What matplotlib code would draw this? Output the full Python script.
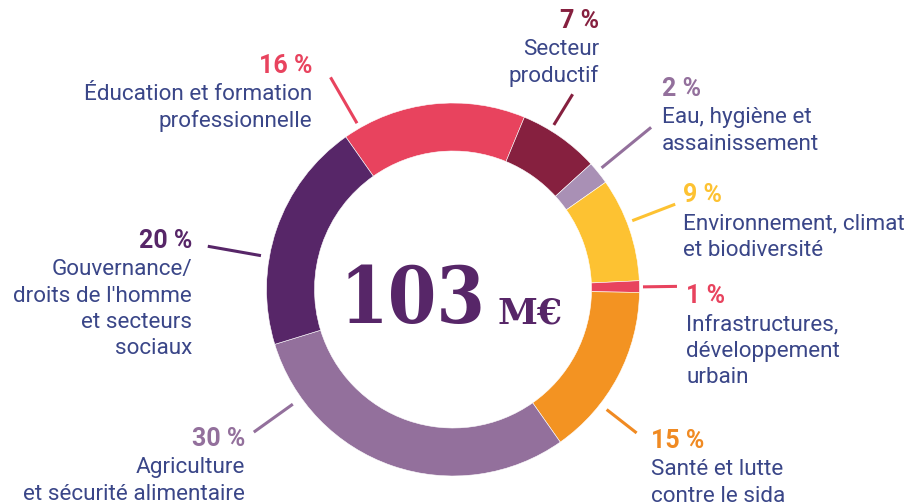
import numpy as np
import matplotlib
matplotlib.use("Agg")
import matplotlib.pyplot as plt

# --- data -------------------------------------------------------------
sectors = [
    "Éducation et formation\nprofessionnelle",
    "Secteur\nproductif",
    "Eau, hygiène et\nassainissement",
    "Environnement, climat\net biodiversité",
    "Infrastructures,\ndéveloppement\nurbain",
    "Santé et lutte\ncontre le sida",
    "Agriculture\net sécurité alimentaire",
    "Gouvernance/\ndroits de l'homme\net secteurs\nsociaux",
]
shares = [16, 7, 2, 9, 1, 15, 30, 20]
total_label = "103"
unit_label = "M€"

# --- style ------------------------------------------------------------
seg_colors = ["#e8435e", "#86203f", "#a990b5", "#fdc232",
              "#e8435e", "#f39322", "#93709c", "#572668"]
pct_colors = ["#e8435e", "#86203f", "#93709c", "#fdc232",
              "#e8435e", "#f08a22", "#93709c", "#572668"]
text_color = "#3a4688"

W, H = 913, 503
cx, cy = 453, H - 289.5
R, ring = 186.5, 48

# leader lines: (angle in degrees, inner radius, outer radius)
leaders = [(120, 192, 245), (58.5, 193, 229), (39.3, 192, 256), (21, 192, 238),
           (0.8, 190, 224), (-38, 195, 233), (-144.4, 197, 245), (170, 195, 249)]
# label anchors: (x, baseline of percent, alignment) in pixel coords from top
anchors = [(312, 73, "right"), (599, 28, "right"), (662, 96, "left"),
           (683, 202, "left"), (686, 303, "left"), (651, 448, "left"),
           (245, 446, "right"), (192, 248, "right")]
line_gap = 26.5
first_gap = 27

fig = plt.figure(figsize=(W / 100, H / 100), dpi=100)
ax = fig.add_axes([0, 0, 1, 1])

ax.pie(shares, colors=seg_colors, startangle=125.1, counterclock=False,
       center=(cx, cy), radius=R,
       wedgeprops=dict(width=ring, edgecolor="white", linewidth=0.4))

for i, (ang, r1, r2) in enumerate(leaders):
    a = np.deg2rad(ang)
    ax.plot([cx + r1 * np.cos(a), cx + r2 * np.cos(a)],
            [cy + r1 * np.sin(a), cy + r2 * np.sin(a)],
            color=pct_colors[i], lw=2.2, solid_capstyle="butt")

for i, (x, yb, ha) in enumerate(anchors):
    ax.text(x, H - yb, f"{shares[i]} %", ha=ha, va="baseline",
            fontsize=18, fontweight="bold", family="Roboto", color=pct_colors[i])
    for j, line in enumerate(sectors[i].split("\n")):
        ax.text(x, H - (yb + first_gap + j * line_gap), line, ha=ha, va="baseline",
                fontsize=16.2, fontweight="normal", family="Roboto", color=text_color)

# centre total
ax.text(485, H - 323, total_label, ha="right", va="baseline", fontsize=56,
        fontweight="bold", fontstretch="condensed", family="DejaVu Serif",
        color="#572668")
ax.text(497, H - 323, unit_label, ha="left", va="baseline", fontsize=26,
        fontweight="bold", family="DejaVu Serif", color="#572668")

ax.set_xlim(0, W)
ax.set_ylim(0, H)
ax.set_aspect("equal")
ax.axis("off")

fig.savefig("out.png", dpi=100)
